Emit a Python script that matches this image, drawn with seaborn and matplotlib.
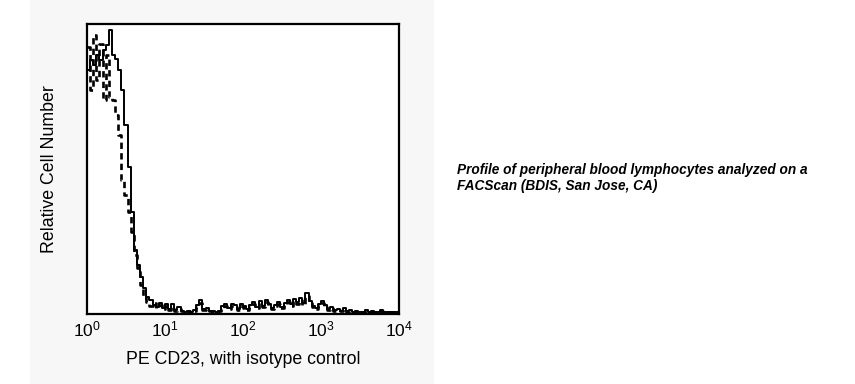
import numpy as np
import pandas as pd
import matplotlib
matplotlib.use("Agg")
import matplotlib.pyplot as plt
import seaborn as sns
from matplotlib.patches import Rectangle

# ---- data: 100 log-spaced channels over 10^0 .. 10^4 (25 per decade) ----
n_bins = 100
decades = 4

# CD23 stained sample (solid line), relative counts per channel
cd23 = [242, 252, 247, 257, 252, 262, 267, 282, 257, 253, 242, 222, 187, 145, 100, 62,
        47, 35, 24, 15, 12, 7, 5, 9, 4, 8, 3, 8, 2, 5,
        1, 0, 1, 0, 2, 7, 12, 3, 4, 1, 1, 0, 1, 6, 8, 4, 8, 7, 3, 8,
        6, 3, 7, 10, 5, 11, 6, 12, 8, 4, 7, 10, 5, 9, 12, 8, 13, 10, 14, 9,
        19, 11, 6, 4, 8, 11, 7, 3, 5, 2, 3, 1, 4, 1, 2, 0, 1, 0, 0, 2,
        0, 1, 0, 0, 2, 0, 0, 0, 0, 0]

# isotype control (dashed line)
isotype = [265, 222, 277, 232, 268, 212, 257, 215, 212, 197, 177, 132, 117, 100, 80, 57,
           44, 27, 14, 10, 6, 9, 4, 7, 3, 6, 2, 5, 1, 3,
           1, 0, 1, 0, 1, 5, 9, 2, 3, 1, 0, 0, 1, 4, 6, 3, 6, 5, 2, 6,
           4, 2, 5, 8, 4, 9, 5, 10, 6, 3, 6, 8, 4, 7, 10, 6, 11, 8, 12, 7,
           16, 9, 5, 3, 6, 9, 5, 2, 4, 1, 2, 1, 3, 0, 1, 0, 1, 0, 0, 1,
           0, 0, 0, 0, 1, 0, 0, 0, 0, 0]

xticks = [1, 10, 100, 1000, 10000]
xlabel = "PE CD23, with isotype control"
ylabel = "Relative Cell Number"
caption = "Profile of peripheral blood lymphocytes analyzed on a\nFACScan (BDIS, San Jose, CA)"

edges = 10 ** (np.arange(n_bins + 1) * decades / n_bins)

def step_frame(vals):
    return pd.DataFrame({"x": edges, "y": list(vals) + [vals[-1]]})

# ---- figure ----
sns.set_theme(style="white")
plt.rcParams["font.family"] = ["Liberation Sans", "DejaVu Sans"]
plt.rcParams["mathtext.default"] = "regular"

fig = plt.figure(figsize=(8.55, 3.84), dpi=100)
fig.patch.set_facecolor("white")
fig.patches.append(Rectangle((30 / 855, 0), (434 - 30) / 855, 1, transform=fig.transFigure,
                             facecolor="#f7f7f7", edgecolor="none", zorder=-10))

ax = fig.add_axes([87 / 855, 1 - 314 / 384, (399 - 87) / 855, (314 - 24) / 384])
ax.set_zorder(5)
ax.set_facecolor("white")

sns.lineplot(data=step_frame(isotype), x="x", y="y", ax=ax, color="black",
             linewidth=1.9, linestyle=(0, (2.4, 1.6)), drawstyle="steps-post",
             estimator=None, sort=False)
sns.lineplot(data=step_frame(cd23), x="x", y="y", ax=ax, color="black",
             linewidth=1.4, drawstyle="steps-post", estimator=None, sort=False)

ax.set_xscale("log")
ax.set_xlim(1, 10000)
ax.set_ylim(-2, 288)
ax.set_xticks(xticks)
ax.minorticks_off()
ax.set_yticks([])
ax.tick_params(axis="x", length=0, pad=4, labelsize=12.5, colors="black")
for s in ax.spines.values():
    s.set_visible(True)
    s.set_color("black")
    s.set_linewidth(1.6)

ax.set_xlabel(xlabel, fontsize=12.8, color="black", labelpad=8)
ax.set_ylabel(ylabel, fontsize=12.8, color="black", labelpad=21)

fig.text(457 / 855, 1 - 178 / 384, caption, fontsize=9.8, fontweight="bold",
         fontstyle="italic", color="black", va="center", ha="left", linespacing=1.25)

fig.savefig("out.png", dpi=100)
